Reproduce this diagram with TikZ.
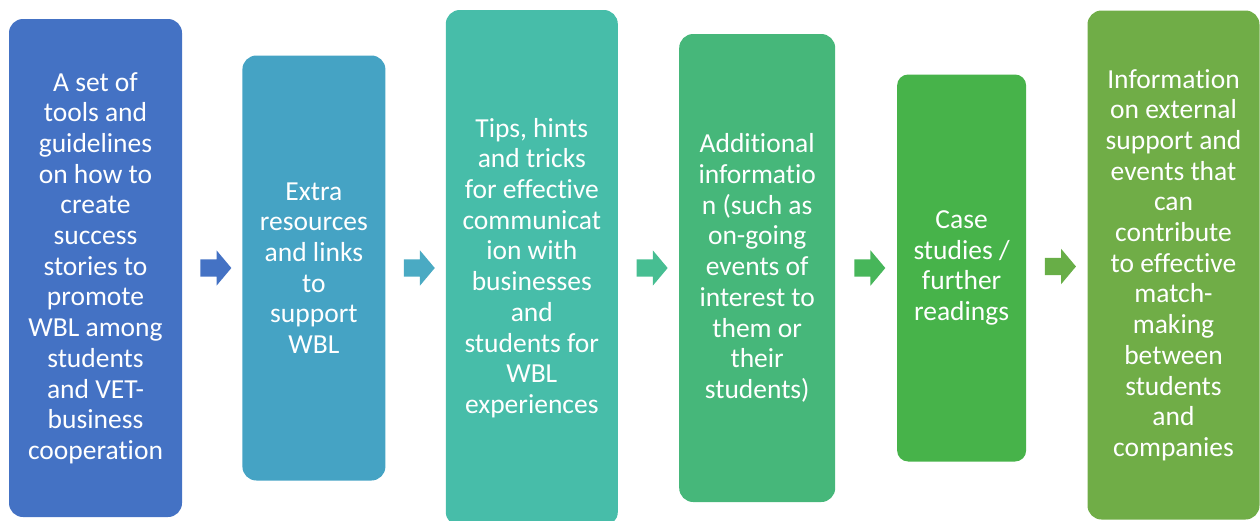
\documentclass[tikz,border=0pt]{standalone}
\usepackage{fontspec}
\setmainfont{Carlito}[Ligatures=NoCommon]
\usetikzlibrary{positioning,calc,shapes.arrows}
\definecolor{stepA}{HTML}{4472C4}
\definecolor{stepB}{HTML}{45A3C4}
\definecolor{stepC}{HTML}{47BDA9}
\definecolor{stepD}{HTML}{46B77A}
\definecolor{stepE}{HTML}{47B34A}
\definecolor{stepF}{HTML}{70AD47}
\definecolor{arrA}{HTML}{4472C4}
\definecolor{arrB}{HTML}{4AAAC3}
\definecolor{arrC}{HTML}{47BE92}
\definecolor{arrD}{HTML}{47B65A}
\definecolor{arrE}{HTML}{68AE47}
\tikzset{
    stage/.style={rounded corners=14pt,inner sep=0pt,align=center,text=white,
        font=\fontsize{27.5}{30.7}\selectfont},
    flow/.style={single arrow,inner xsep=0pt,inner ysep=8.5pt,minimum height=31pt,
        single arrow head extend=9pt,single arrow tip angle=100}
}

\begin{document}
\begin{tikzpicture}[x=1pt,y=-1pt]
    \useasboundingbox (0,0) rectangle (1260,520);

    \node[stage,fill=stepA,minimum width=173pt,minimum height=498pt] (b1) at (95.5,268)
        {A set of\\tools and\\guidelines\\on how to\\create\\success\\stories to\\promote\\WBL among\\students\\and VET-\\business\\cooperation};
    \node[stage,fill=stepB,minimum width=143pt,minimum height=425pt] (b2) [right=60pt of b1]
        {Extra\\resources\\and links\\to\\support\\WBL};
    \node[stage,fill=stepC,minimum width=172pt,minimum height=516pt] (b3) [right=60pt of b2]
        {Tips, hints\\and tricks\\for effective\\communicat\\ion with\\businesses\\and\\students for\\WBL\\experiences};
    \node[stage,fill=stepD,minimum width=156pt,minimum height=468pt] (b4) [right=61pt of b3]
        {Additional\\informatio\\n (such as\\on-going\\events of\\interest to\\them or\\their\\students)};
    \node[stage,rounded corners=11pt,fill=stepE,minimum width=129pt,minimum height=387pt] (b5) [right=61.5pt of b4]
        {Case\\studies /\\further\\readings};
    \node[stage,fill=stepF,minimum width=172pt,minimum height=509pt] (b6) [right=61pt of b5,yshift=3pt]
        {Information\\on external\\support and\\events that\\can\\contribute\\to effective\\match-\\making\\between\\students\\and\\companies};

    % arrows between the stages
    \node[flow,fill=arrA] (f1) at ($(b1.east)!.5!(b2.west)$) {};
    \node[flow,fill=arrB] (f2) at ($(b2.east)!.5!(b3.west)$) {};
    \node[flow,fill=arrC] (f3) at ($(b3.east)!.5!(b4.west)$) {};
    \node[flow,fill=arrD] (f4) at ($(b4.east)!.5!(b5.west)$) {};
    \node[flow,fill=arrE] (f5) at ($(b5.east)!.5!(b6.west)$) {};
\end{tikzpicture}
\end{document}
